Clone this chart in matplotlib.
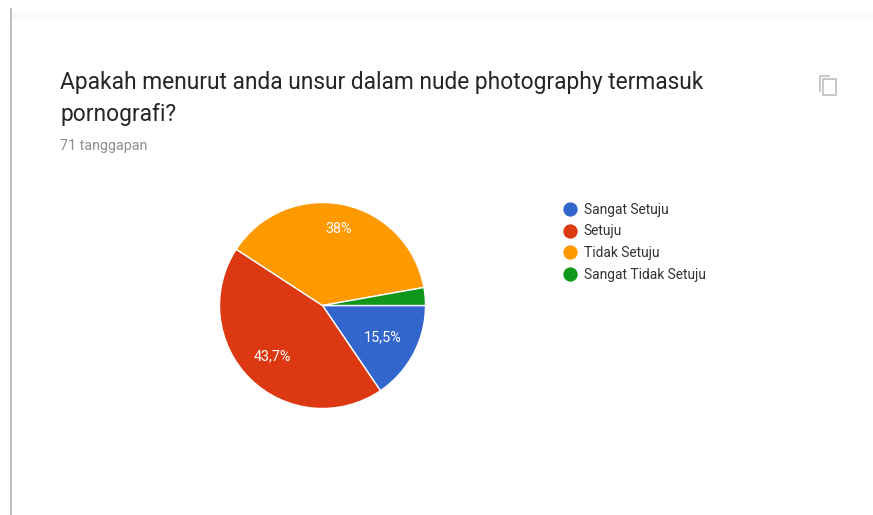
import matplotlib
matplotlib.use('Agg')
import matplotlib.pyplot as plt
import numpy as np
from matplotlib.lines import Line2D
from matplotlib.patches import Rectangle

plt.rcParams['font.family'] = ['Roboto', 'DejaVu Sans']

W, H = 873, 515

categories = ['Sangat Setuju', 'Setuju', 'Tidak Setuju', 'Sangat Tidak Setuju']
values = [15.5, 43.7, 38.0, 2.8]
value_labels = ['15,5%', '43,7%', '38%', '']
colors = ['#3366cc', '#dc3912', '#ff9900', '#109618']

title_lines = ['Apakah menurut anda unsur dalam nude photography termasuk', 'pornografi?']
subtitle = '71 tanggapan'

fig = plt.figure(figsize=(W / 100, H / 100), dpi=100, facecolor='white')

# full-figure axes in pixel units for the page furniture and the text
bg = fig.add_axes([0, 0, 1, 1])
bg.set_xlim(0, W)
bg.set_ylim(H, 0)
bg.axis('off')

bg.add_patch(Rectangle((12, 12), W - 12, 8, fc='#f9f9f9', ec='none'))
bg.add_patch(Rectangle((10, 8), 2, H - 8, fc='#bdbdbd', ec='none'))

bg.text(60, 83, title_lines[0], fontsize=16.4, color='#262626', va='center')
bg.text(60, 115, title_lines[1], fontsize=16.4, color='#262626', va='center')
bg.text(60, 146, subtitle, fontsize=10.3, color='#8f8f8f', va='center')

# copy icon, top right
bg.add_patch(Rectangle((823, 79), 13, 16, fc='white', ec='#c4c4c4', lw=1.3))
bg.plot([819.5, 819.5, 829], [91, 75.5, 75.5], color='#c4c4c4', lw=1.3)

# pie, clockwise from the 3 o'clock position
cx, cy, r = 322.5, 305.5, 103
ax = fig.add_axes([(cx - r) / W, 1 - (cy + r) / H, 2 * r / W, 2 * r / H])
wedges, _ = ax.pie(values, colors=colors, startangle=0, counterclock=False, radius=1,
                   wedgeprops={'edgecolor': 'white', 'linewidth': 1.0})
ax.set_xlim(-1, 1)
ax.set_ylim(-1, 1)

label_radius = [0.66, 0.69, 0.76, 0.7]
for w, lab, d in zip(wedges, value_labels, label_radius):
    mid = np.deg2rad((w.theta1 + w.theta2) / 2)
    ax.text(d * np.cos(mid), d * np.sin(mid), lab, color='white', fontsize=10.4,
            ha='center', va='center')

# legend
handles = [Line2D([], [], marker='o', ls='none', ms=10.3, mfc=c, mec='none') for c in colors]
fig.legend(handles, categories, loc='upper left', bbox_to_anchor=(556 / W, 1 - 200 / H),
           frameon=False, fontsize=9.9, labelcolor='#333333', handletextpad=0.13,
           labelspacing=0.56, borderpad=0.2, borderaxespad=0, handlelength=1.7)

fig.savefig('out.png', dpi=100)
